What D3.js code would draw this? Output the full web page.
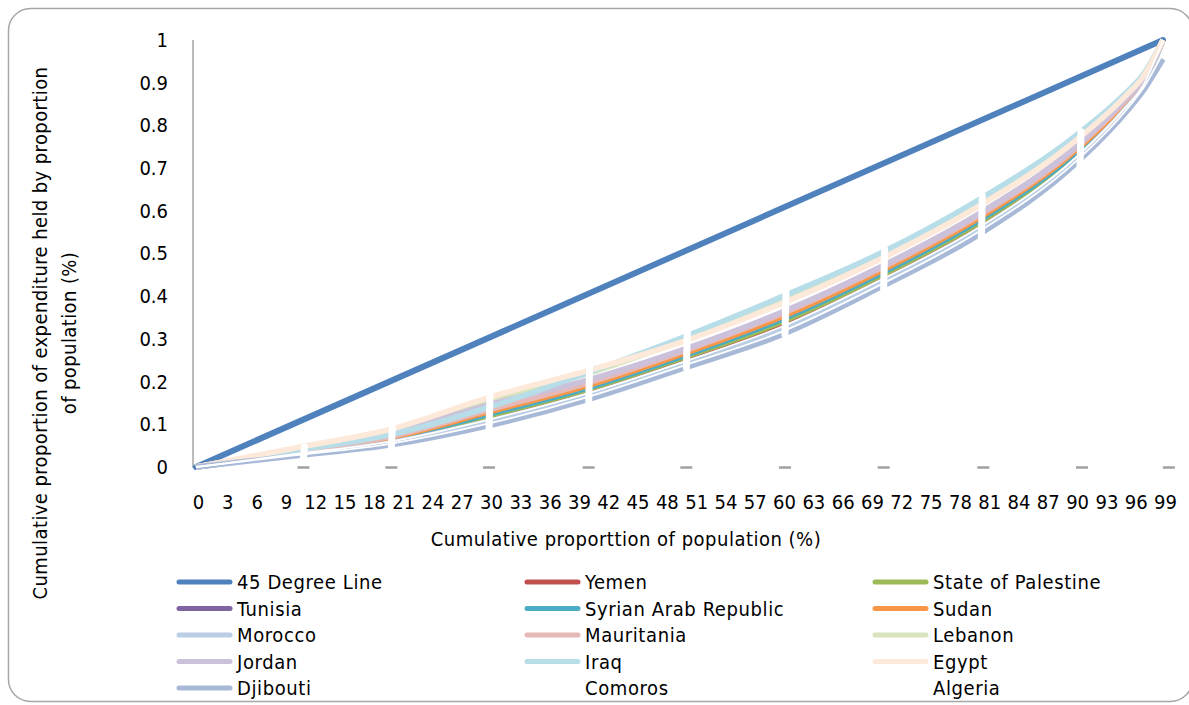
<!DOCTYPE html>
<html>
<head>
<meta charset="utf-8">
<script src="https://cdn.jsdelivr.net/npm/d3@7"></script>
<style>
  html, body { margin: 0; padding: 0; background: #fff; }
  svg { display: block; }
  text { font-family: "Liberation Sans Narrow", "Arial Narrow", "DejaVu Sans Condensed", sans-serif; fill: #000; }
</style>
</head>
<body>
<svg id="chart" width="1189" height="705"></svg>
<script>
// ---------------- data ----------------
const xTickLabels = [0,3,6,9,12,15,18,21,24,27,30,33,36,39,42,45,48,51,54,57,60,63,66,69,72,75,78,81,84,87,90,93,96,99];
const yTickValues = [0,0.1,0.2,0.3,0.4,0.5,0.6,0.7,0.8,0.9,1];

// 45 degree line
const degreeX = [0, 99];
const degreeY = [0, 1];

// sample points of the Lorenz curves (cumulative % of population)
const popX = [0,10,20,30,40,50,60,70,80,90,95,97,99];

const yemen      = [0,.031,.062,.115,.176,.252,.334,.442,.564,.727,.841,.898,1];
const palestine  = [0,.032,.065,.120,.181,.257,.340,.447,.570,.731,.844,.900,1];
const tunisia    = [0,.035,.071,.132,.194,.270,.356,.462,.585,.743,.853,.906,1];
const syria      = [0,.033,.067,.124,.185,.261,.346,.452,.575,.735,.847,.902,1];
const sudan      = [0,.034,.069,.129,.190,.266,.352,.458,.581,.740,.850,.904,1];
const morocco    = [0,.028,.057,.107,.167,.242,.322,.431,.553,.718,.834,.892,1];
const mauritania = [0,.036,.072,.134,.196,.272,.359,.464,.587,.745,.855,.908,1];
const lebanon    = [0,.042,.085,.156,.218,.298,.390,.492,.616,.768,.868,.917,1];
const jordan     = [0,.040,.080,.146,.203,.276,.363,.468,.591,.749,.858,.910,1];
const iraq       = [0,.038,.076,.140,.220,.305,.399,.500,.624,.775,.872,.920,1];
const egypt      = [0,.044,.089,.163,.225,.295,.383,.486,.609,.763,.865,.915,1];
const djibouti   = [0,.026,.052,.097,.157,.232,.310,.420,.542,.709,.825,.882,.955];
const comoros    = [0,.030,.060,.111,.172,.247,.329,.437,.559,.723,.838,.895,1];
const algeria    = [0,.027,.055,.102,.163,.238,.317,.426,.549,.714,.830,.888,.97];

// white gaps at the deciles and grey dash markers on the zero line
const decileX      = [11,20,30,40.2,50.2,60.3,70.4,80.4,90.5];
const decileTop    = [0.047,0.098,0.168,0.232,0.316,0.41,0.51,0.635,0.785];
const decileBottom = [0.02,0.043,0.09,0.155,0.232,0.31,0.415,0.535,0.70];
const dashX        = [11,20,30,40.2,50.2,60.3,70.4,80.6,90.7,99.6];
const dashY        = [0,0,0,0,0,0,0,0,0,0];

const seriesNames = ["45 Degree Line","Yemen","State of Palestine","Tunisia","Syrian Arab Republic","Sudan",
  "Morocco","Mauritania","Lebanon","Jordan","Iraq","Egypt","Djibouti","Comoros","Algeria"];
const seriesColors = ["#4F81BD","#C0504D","#9BBB59","#8064A2","#4BACC6","#F79646",
  "#B9CDE5","#E6B9B8","#D7E4BD","#CCC1DA","#B7DEE8","#FDE9D9","#A7B9D7","#FFFFFF","#FFFFFF"];
const seriesValues = [null, yemen, palestine, tunisia, syria, sudan, morocco, mauritania, lebanon, jordan, iraq, egypt, djibouti, comoros, algeria];

// ---------------- drawing ----------------
const svg = d3.select("#chart");

// frame
svg.append("rect")
  .attr("x", 8.5).attr("y", 8.5)
  .attr("width", 1184).attr("height", 693)
  .attr("rx", 22).attr("ry", 22)
  .attr("fill", "none").attr("stroke", "#A6A6A6").attr("stroke-width", 1.5);

const x = d3.scaleLinear().domain([0, 99]).range([196, 1163]);
const y = d3.scaleLinear().domain([0, 1]).range([467, 40]);

// y axis
const yAxis = d3.axisLeft(y).tickValues(yTickValues).tickSize(0).tickPadding(25)
  .tickFormat(d => d === 0 ? "0" : d === 1 ? "1" : d3.format(".1f")(d));
const gy = svg.append("g").attr("transform", "translate(193,0)").call(yAxis);
gy.select(".domain").attr("stroke", "#A6A6A6").attr("stroke-width", 1.5).attr("d", `M0,${y(1)}V${y(0)+1}`);
gy.selectAll("text").attr("font-size", 20).style("font-family", null);

// x axis labels
const xAxis = d3.axisBottom(x).tickValues(xTickLabels).tickSize(0).tickPadding(28).tickFormat(d3.format("d"));
const gx = svg.append("g").attr("transform", `translate(0,${y(0)})`).call(xAxis);
gx.select(".domain").remove();
gx.selectAll("text").attr("font-size", 20).style("font-family", null).attr("dx", 2);

// axis titles
svg.append("text")
  .attr("x", 626).attr("y", 546)
  .attr("text-anchor", "middle").attr("font-size", 20).attr("letter-spacing", 0.5)
  .text("Cumulative proporttion of population (%)");

const yt = svg.append("text")
  .attr("transform", "translate(47,333) rotate(-90)")
  .attr("text-anchor", "middle").attr("font-size", 20).attr("letter-spacing", 0.4);
yt.append("tspan").attr("x", 0).attr("y", 0).text("Cumulative proportion of expenditure held by proportion");
yt.append("tspan").attr("x", 0).attr("y", 29).text("of population (%)");

// grey dash markers on the zero line
svg.append("g").selectAll("line").data(dashX).join("line")
  .attr("x1", (d) => x(d) - 6).attr("x2", (d) => x(d) + 6)
  .attr("y1", (d, i) => y(dashY[i]) + 0.5).attr("y2", (d, i) => y(dashY[i]) + 0.5)
  .attr("stroke", "#A0A0A0").attr("stroke-width", 2.5);

// curves
const lorenz = d3.line()
  .x((d) => x(d[0])).y((d) => y(d[1]))
  .curve(d3.curveMonotoneX);
const straight = d3.line().x((d) => x(d[0])).y((d) => y(d[1]));

const plot = svg.append("g");
plot.append("path")
  .attr("d", straight(degreeX.map((v, i) => [v, degreeY[i]])))
  .attr("fill", "none").attr("stroke", seriesColors[0]).attr("stroke-width", 6).attr("stroke-linecap", "round");

seriesValues.forEach((vals, k) => {
  if (!vals) return;
  const isWhite = seriesColors[k] === "#FFFFFF";
  plot.append("path")
    .attr("d", lorenz(popX.map((v, i) => [v, vals[i]])))
    .attr("fill", "none")
    .attr("stroke", seriesColors[k])
    .attr("stroke-width", isWhite ? 1.8 : 5.5)
    .attr("stroke-linejoin", "round");
});

// white decile gaps
plot.append("g").selectAll("line").data(decileX).join("line")
  .attr("x1", (d) => x(d)).attr("x2", (d) => x(d) + 1)
  .attr("y1", (d, i) => y(decileBottom[i])).attr("y2", (d, i) => y(decileTop[i]))
  .attr("stroke", "#FFFFFF").attr("stroke-width", 7).attr("stroke-linecap", "round");

// legend
const legendCols = [177, 525, 873];
const legendRowY = [582, 608.5, 635, 661.5, 688];
const lg = svg.append("g");
seriesNames.forEach((name, i) => {
  const cx = legendCols[i % 3];
  const cy = legendRowY[Math.floor(i / 3)];
  lg.append("line")
    .attr("x1", cx + 2).attr("x2", cx + 53).attr("y1", cy).attr("y2", cy)
    .attr("stroke", seriesColors[i]).attr("stroke-width", 5).attr("stroke-linecap", "round");
  lg.append("text")
    .attr("x", cx + 60).attr("y", cy).attr("dy", "0.35em")
    .attr("font-size", 20).attr("letter-spacing", 0.6)
    .text(name);
});
</script>
</body>
</html>
